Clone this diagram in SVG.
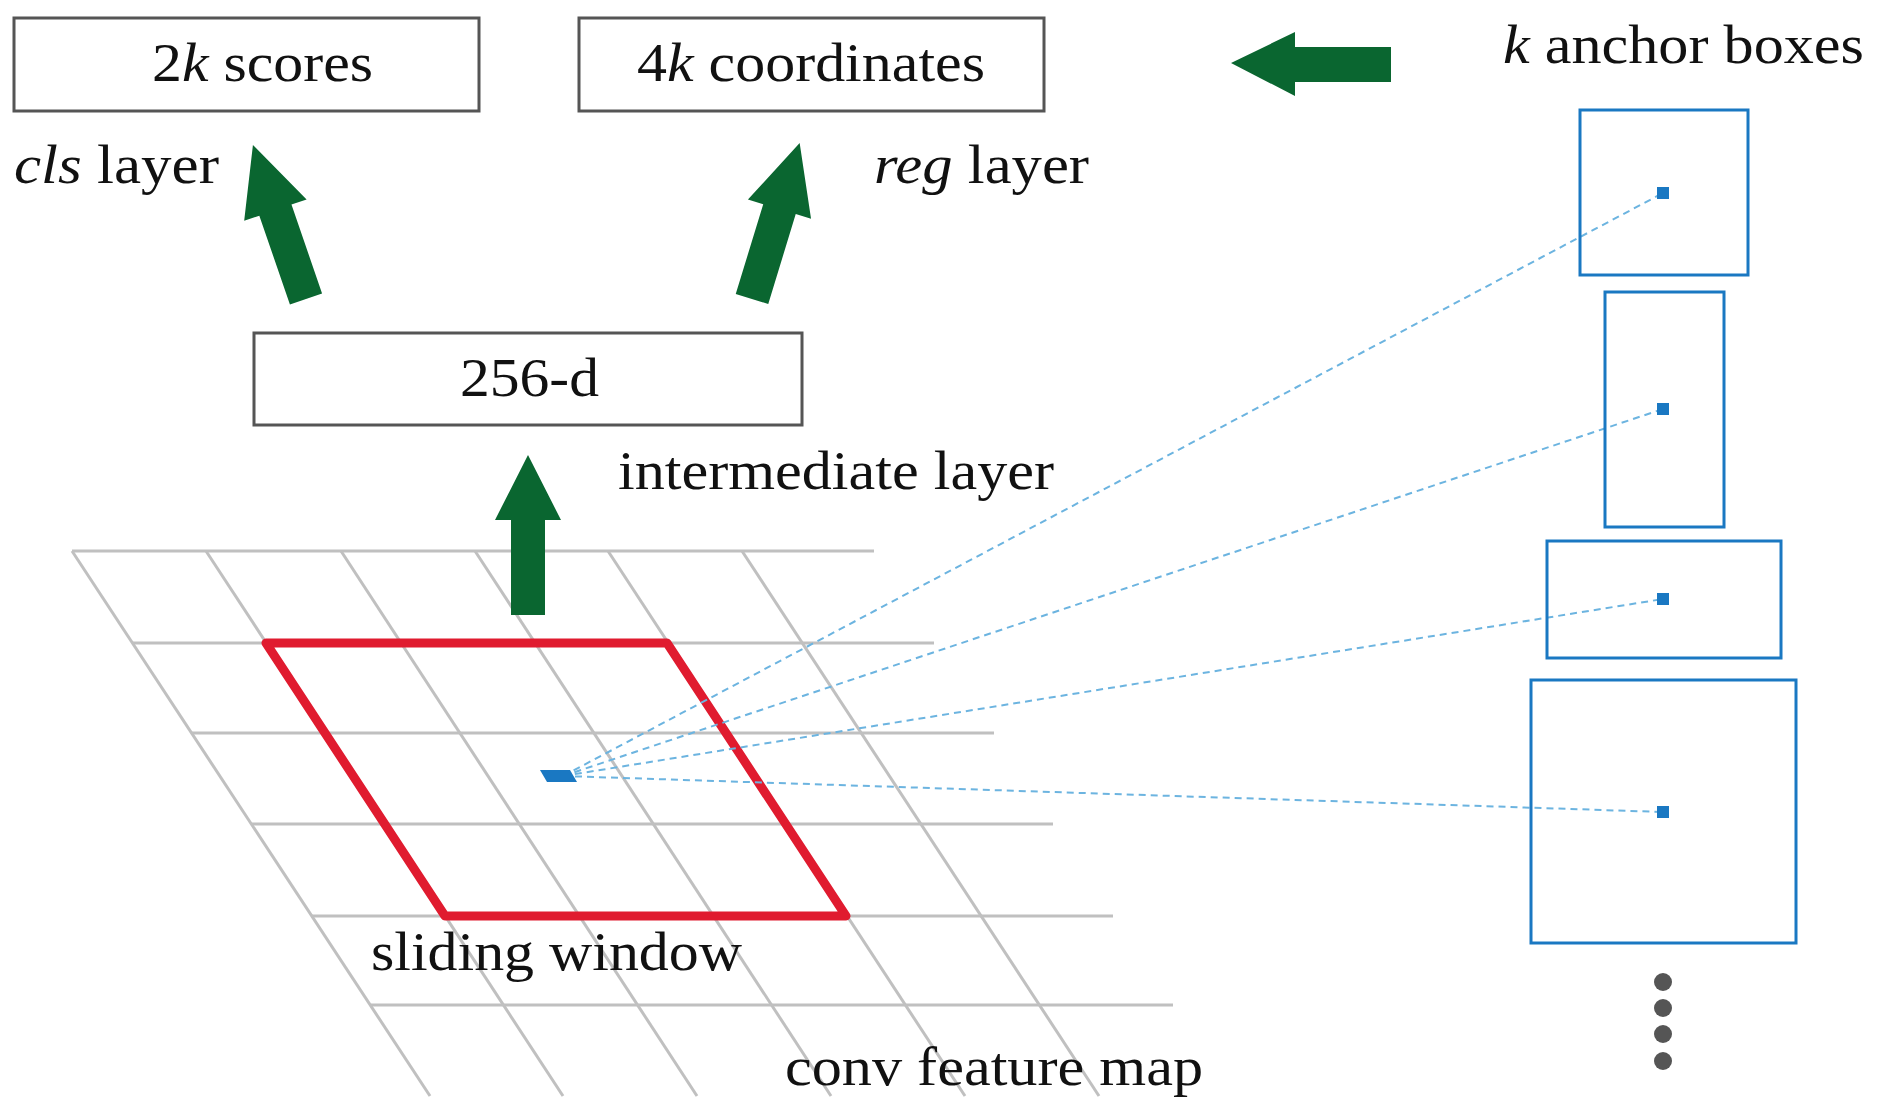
<svg xmlns="http://www.w3.org/2000/svg" width="1877" height="1117" viewBox="0 0 1877 1117">
<style>
text{font-family:"Liberation Serif",serif;font-size:54px;fill:#111}
.box{fill:#fff;stroke:#555;stroke-width:3}
.grid line{stroke:#c0c0c0;stroke-width:3}
.anc{fill:none;stroke:#1a78c2;stroke-width:3}
.dash{stroke:#6cb4e0;stroke-width:2;stroke-dasharray:7,5;fill:none}
.ctr{fill:#1a78c2}
.arr{fill:#0a6630}
</style>
<rect width="1877" height="1117" fill="#fff"/>
<g class="grid">
<line x1="72" y1="551" x2="874" y2="551"/><line x1="132" y1="643" x2="934" y2="643"/><line x1="192" y1="733" x2="994" y2="733"/><line x1="251" y1="824" x2="1053" y2="824"/><line x1="311" y1="916" x2="1113" y2="916"/><line x1="371" y1="1005" x2="1173" y2="1005"/>
<line x1="72" y1="551" x2="430" y2="1096"/><line x1="206" y1="551" x2="563" y2="1096"/><line x1="341" y1="551" x2="697" y2="1096"/><line x1="475" y1="551" x2="831" y2="1096"/><line x1="608" y1="551" x2="965" y2="1096"/><line x1="742" y1="551" x2="1099" y2="1096"/>
</g>
<polygon points="266,643 667,643 846,916 445,916" fill="none" stroke="#e01b2f" stroke-width="9" stroke-linejoin="round"/>
<g id="connectors">
<line class="dash" x1="563" y1="776" x2="1663" y2="193"/>
<line class="dash" x1="563" y1="776" x2="1663" y2="409"/>
<line class="dash" x1="563" y1="776" x2="1663" y2="599"/>
<line class="dash" x1="563" y1="776" x2="1663" y2="812"/>
<polygon class="arr" points="1231,63 1295,32 1295,47 1391,47 1391,82 1295,82 1295,96"/>
<polygon class="arr" points="528,455 561,520 545,520 545,615 511,615 511,520 495,520"/>
<polygon class="arr" transform="rotate(-19 306 299)" points="306,136 339,205 323,205 323,299 289,299 289,205 273,205"/>
<polygon class="arr" transform="rotate(17 752 299)" points="752,136 785,205 769,205 769,299 735,299 735,205 719,205"/>
</g>
<polygon class="ctr" points="540,770 570,770 577,782 547,782"/>
<g id="scores"><rect class="box" x="14" y="18" width="465" height="93"/><text x="152" y="81" textLength="221" lengthAdjust="spacingAndGlyphs">2<tspan font-style="italic">k</tspan> scores</text></g>
<g id="coords"><rect class="box" x="579" y="18" width="465" height="93"/><text x="637" y="81" textLength="348" lengthAdjust="spacingAndGlyphs">4<tspan font-style="italic">k</tspan> coordinates</text></g>
<g id="d256"><rect class="box" x="254" y="333" width="548" height="92"/><text x="460" y="396" textLength="139" lengthAdjust="spacingAndGlyphs">256-d</text></g>
<text x="14" y="183" textLength="205" lengthAdjust="spacingAndGlyphs"><tspan font-style="italic">cls</tspan> layer</text>
<text x="874" y="183" textLength="215" lengthAdjust="spacingAndGlyphs"><tspan font-style="italic">reg</tspan> layer</text>
<text x="618" y="489" textLength="436" lengthAdjust="spacingAndGlyphs">intermediate layer</text>
<text x="371" y="970" textLength="371" lengthAdjust="spacingAndGlyphs">sliding window</text>
<text x="785" y="1085" textLength="418" lengthAdjust="spacingAndGlyphs">conv feature map</text>
<text x="1503" y="63" textLength="361" lengthAdjust="spacingAndGlyphs"><tspan font-style="italic">k</tspan> anchor boxes</text>
<g id="anchors">
<rect class="anc" x="1580" y="110" width="168" height="165"/>
<rect class="anc" x="1605" y="292" width="119" height="235"/>
<rect class="anc" x="1547" y="541" width="234" height="117"/>
<rect class="anc" x="1531" y="680" width="265" height="263"/>
<rect class="ctr" x="1657" y="187" width="12" height="12"/>
<rect class="ctr" x="1657" y="403" width="12" height="12"/>
<rect class="ctr" x="1657" y="593" width="12" height="12"/>
<rect class="ctr" x="1657" y="806" width="12" height="12"/>
</g>
<g fill="#555"><circle cx="1663" cy="982" r="9"/><circle cx="1663" cy="1008" r="9"/><circle cx="1663" cy="1034" r="9"/><circle cx="1663" cy="1061" r="9"/></g>
</svg>
